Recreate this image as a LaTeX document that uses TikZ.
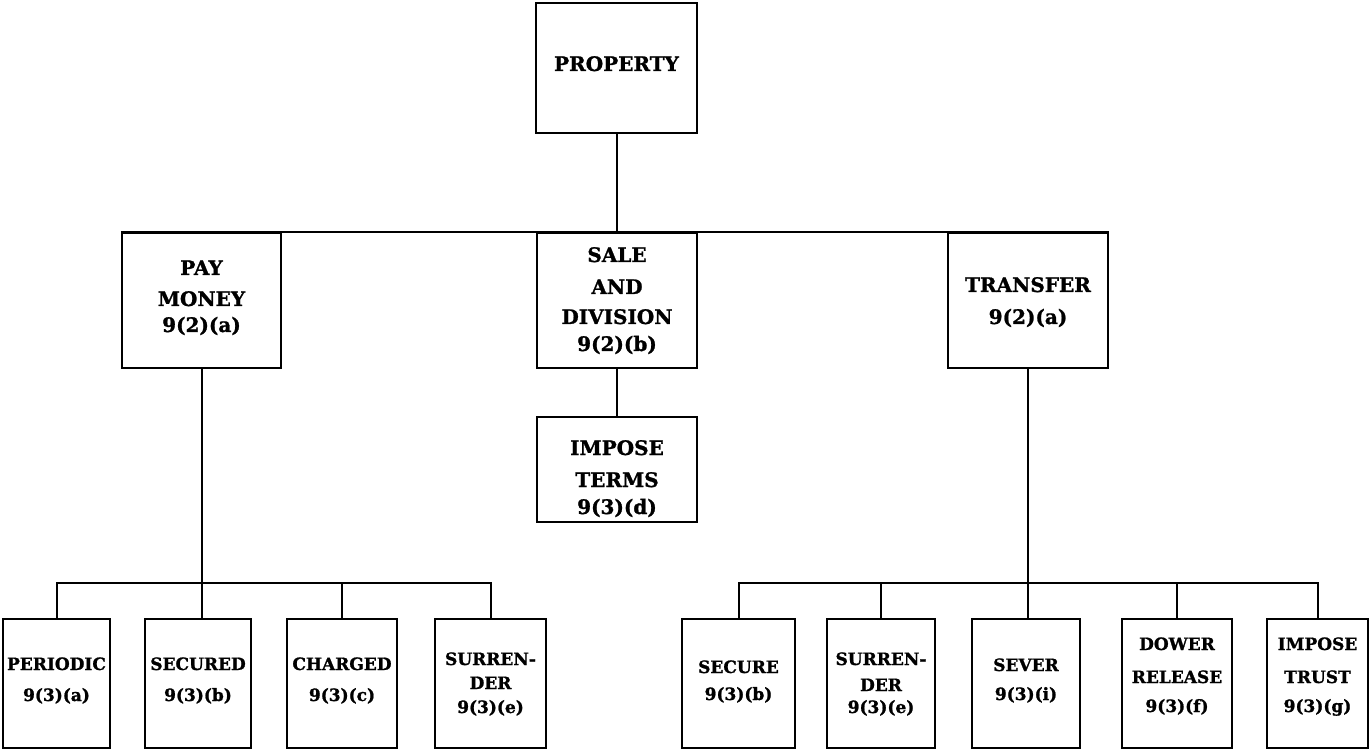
\documentclass[tikz,border=0pt]{standalone}
\usepackage{fontspec}
\setmainfont{DejaVu Serif}[BoldFeatures={FakeBold=1.2}]
\tikzset{
  box/.style={draw, line width=2.2pt, inner sep=0pt},
  conn/.style={line width=2pt},
  big/.style={font=\bfseries\fontsize{20}{24}\selectfont, inner sep=0pt, anchor=base},
  small/.style={font=\bfseries\fontsize{17}{20}\selectfont, inner sep=0pt, anchor=base},
}
\newcommand\mybox[5]{\node[box, minimum width={#3-#2}, minimum height={#5-#4}] (#1) at ({(#2+#3)/2},{(#4+#5)/2}) {};}
\newcommand\tline[5]{\node[#1] (#2) at (#3.center |- 0,#4) {#5};}
\begin{document}
\begin{tikzpicture}[x=1pt,y=-1pt]
\useasboundingbox (0,0) rectangle (1371,751);
% boxes
\mybox{prop}{536}{697}{3}{133}
\mybox{pay}{122}{281}{233}{368}
\mybox{sale}{537}{697}{233}{368}
\mybox{trans}{948}{1108}{233}{368}
\mybox{impose}{537}{697}{417}{522}
\mybox{periodic}{3}{110}{619}{748}
\mybox{secured}{145}{251}{619}{748}
\mybox{charged}{287}{397}{619}{748}
\mybox{surrL}{435}{546}{619}{748}
\mybox{secure}{682}{795}{619}{748}
\mybox{surrR}{827}{935}{619}{748}
\mybox{sever}{972}{1080}{619}{748}
\mybox{dower}{1122}{1232}{619}{748}
\mybox{trust}{1267}{1368}{619}{748}
% texts
\tline{big}{prop-1}{prop}{71}{PROPERTY}
\tline{big}{pay-1}{pay}{275}{PAY}
\tline{big}{pay-2}{pay}{306}{MONEY}
\tline{big}{pay-3}{pay}{332}{9(2)(a)}
\tline{big}{sale-1}{sale}{262}{SALE}
\tline{big}{sale-2}{sale}{294}{AND}
\tline{big}{sale-3}{sale}{324}{DIVISION}
\tline{big}{sale-4}{sale}{351}{9(2)(b)}
\tline{big}{trans-1}{trans}{292}{TRANSFER}
\tline{big}{trans-2}{trans}{324}{9(2)(a)}
\tline{big}{impose-1}{impose}{455}{IMPOSE}
\tline{big}{impose-2}{impose}{487}{TERMS}
\tline{big}{impose-3}{impose}{514}{9(3)(d)}
\tline{small}{periodic-1}{periodic}{670}{PERIODIC}
\tline{small}{periodic-2}{periodic}{701}{9(3)(a)}
\tline{small}{secured-1}{secured}{670}{SECURED}
\tline{small}{secured-2}{secured}{701}{9(3)(b)}
\tline{small}{charged-1}{charged}{670}{CHARGED}
\tline{small}{charged-2}{charged}{701}{9(3)(c)}
\tline{small}{surrL-1}{surrL}{665}{SURREN-}
\tline{small}{surrL-2}{surrL}{689}{DER}
\tline{small}{surrL-3}{surrL}{713}{9(3)(e)}
\tline{small}{secure-1}{secure}{673}{SECURE}
\tline{small}{secure-2}{secure}{700}{9(3)(b)}
\tline{small}{surrR-1}{surrR}{665}{SURREN-}
\tline{small}{surrR-2}{surrR}{691}{DER}
\tline{small}{surrR-3}{surrR}{713}{9(3)(e)}
\tline{small}{sever-1}{sever}{671}{SEVER}
\tline{small}{sever-2}{sever}{700}{9(3)(i)}
\tline{small}{dower-1}{dower}{650}{DOWER}
\tline{small}{dower-2}{dower}{683}{RELEASE}
\tline{small}{dower-3}{dower}{712}{9(3)(f)}
\tline{small}{trust-1}{trust}{650}{IMPOSE}
\tline{small}{trust-2}{trust}{683}{TRUST}
\tline{small}{trust-3}{trust}{712}{9(3)(g)}
% connectors
\coordinate (lbus) at (0,583);
\draw[conn] (prop.south) -- (prop.south |- sale.north);
\draw[conn] (pay.north west) -- (trans.north east);
\draw[conn] (sale.south) -- (impose.north);
\draw[conn] (pay.south) -- (pay.south |- secured.north);
\draw[conn] (periodic.north) -- (periodic.north |- lbus) -- (surrL.north |- lbus) -- (surrL.north);
\draw[conn] (charged.north) -- (charged.north |- lbus);
\draw[conn] (trans.south) -- (trans.south |- sever.north);
\draw[conn] (secure.north) -- (secure.north |- lbus) -- (trust.north |- lbus) -- (trust.north);
\draw[conn] (surrR.north) -- (surrR.north |- lbus);
\draw[conn] (dower.north) -- (dower.north |- lbus);
\end{tikzpicture}
\end{document}
